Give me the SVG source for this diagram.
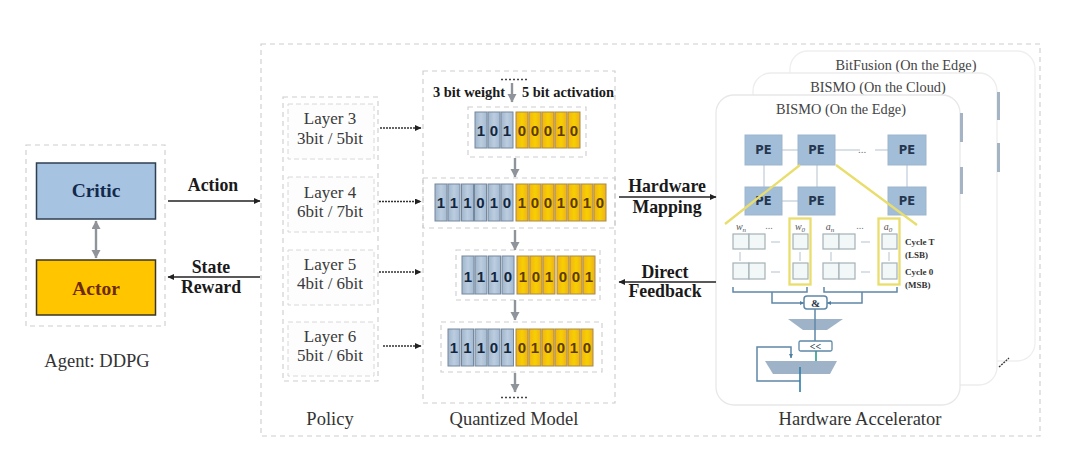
<svg xmlns="http://www.w3.org/2000/svg" width="1080" height="459" viewBox="0 0 1080 459">
<style>
text{font-family:"Liberation Serif","Times New Roman",serif;fill:#333;text-anchor:middle}
.big{font-size:18.5px}
.lay{font-size:17px;fill:#3a3a3a}
.bold{font-size:17.8px;font-weight:bold;fill:#1a1a1a}
.hd{font-size:14.4px;font-weight:bold;fill:#1a1a1a}
.card{font-size:14.3px;fill:#444}
.dash{fill:none;stroke:#cdcdcd;stroke-width:1.1;stroke-dasharray:5 4}
.lbox{fill:#fdfdfd;stroke:#d8d8d8;stroke-width:1;stroke-dasharray:5 3}
.b{fill:url(#gb);stroke:#76889c;stroke-width:1}
.y{fill:url(#gy);stroke:#a8894a;stroke-width:1}
.bt,.yt{font-family:"Liberation Sans",Arial,sans-serif;font-size:15px;font-weight:bold}
.bt{fill:#12263f}.yt{fill:#5c3a00}
.cardbg{fill:#fff;stroke:#e8e8e8;stroke-width:1.3}
.pe{fill:#a2bdd8;stroke:#9db5cc}
.pet{font-family:"DejaVu Sans",sans-serif;font-size:11.5px;font-weight:bold;fill:#25364f}
.wire{fill:none;stroke:#b3c1ce;stroke-width:1}
.cell{fill:#f2f7f8;stroke:#a4b1b6;stroke-width:1.2}
.yl{fill:none;stroke:#e9dd6c;stroke-width:2.3}
.blu{fill:none;stroke:#5f88a8;stroke-width:1.5}
.sm{font-size:9px;font-weight:bold;fill:#333}
.it{font-size:10px;font-style:italic;fill:#555}
.black{fill:none;stroke:#222;stroke-width:1.6}
.dot{fill:none;stroke:#333;stroke-width:1.3;stroke-dasharray:2 1}
.gray{fill:none;stroke:#8f949b;stroke-width:2.4}
</style>
<defs>
<linearGradient id="gb" x1="0" x2="1" y1="0" y2="0"><stop offset="0" stop-color="#9fb6cd"/><stop offset="0.5" stop-color="#bccddf"/><stop offset="1" stop-color="#a3bad2"/></linearGradient>
<linearGradient id="gy" x1="0" x2="1" y1="0" y2="0"><stop offset="0" stop-color="#f2b318"/><stop offset="0.5" stop-color="#f7d000"/><stop offset="1" stop-color="#efb020"/></linearGradient>
<marker id="ab" markerWidth="7" markerHeight="7" refX="6" refY="3" orient="auto-start-reverse" markerUnits="userSpaceOnUse"><path d="M0 0L6.500 3L0 6z" fill="#222"/></marker>
<marker id="ag" markerWidth="10" markerHeight="10" refX="8" refY="4.500" orient="auto-start-reverse" markerUnits="userSpaceOnUse"><path d="M0 0L8.500 4.500L0 9z" fill="#8f949b"/></marker>
<marker id="as" markerWidth="5" markerHeight="5" refX="4" refY="2" orient="auto" markerUnits="userSpaceOnUse"><path d="M0 0L4 2L0 4z" fill="#4d7fa3"/></marker>
</defs>
<rect width="1080" height="459" fill="#fff"/>

<g id="system"><rect class="dash" x="261" y="44" width="779" height="392"/></g>

<g id="agent">
<rect class="dash" x="26" y="145" width="139" height="181"/>
<text class="big" x="97" y="367">Agent: DDPG</text>
</g>
<g id="critic"><rect x="36.500" y="163" width="119" height="56" fill="#a6c3e2" stroke="#2f3f52" stroke-width="1.500"/><text x="96" y="197" font-size="19.500" font-weight="bold" style="fill:#13294b">Critic</text></g>
<g id="actor"><rect x="36.500" y="260" width="119" height="55" fill="#ffc600" stroke="#3a3520" stroke-width="1.500"/><text x="96" y="295" font-size="19.500" font-weight="bold" style="fill:#6e2a00">Actor</text></g>

<g id="policy">
<rect class="dash" x="283" y="97" width="95" height="284"/>
<text class="big" x="330" y="425">Policy</text>
</g>
<g id="layer3"><rect class="lbox" x="288" y="104" width="86" height="55"/><text class="lay" x="330" y="124">Layer 3</text><text class="lay" x="330" y="144">3bit / 5bit</text></g>
<g id="layer4"><rect class="lbox" x="288" y="177" width="86" height="55"/><text class="lay" x="330" y="198">Layer 4</text><text class="lay" x="330" y="217">6bit / 7bit</text></g>
<g id="layer5"><rect class="lbox" x="288" y="250" width="86" height="55"/><text class="lay" x="330" y="270">Layer 5</text><text class="lay" x="330" y="289">4bit / 6bit</text></g>
<g id="layer6"><rect class="lbox" x="288" y="322" width="86" height="54"/><text class="lay" x="330" y="342">Layer 6</text><text class="lay" x="330" y="361">5bit / 6bit</text></g>

<g id="quantized">
<rect class="dash" x="423" y="71" width="192" height="332"/>
<text class="hd" x="469" y="97">3 bit weight</text>
<text class="hd" x="568" y="97">5 bit activation</text>
<text class="big" x="514" y="425">Quantized Model</text>
</g>
<g id="row1">
<rect class="dash" x="468" y="107" width="118" height="50"/>
<rect class="b" x="475" y="112" width="12" height="36"/><rect class="b" x="488" y="112" width="12" height="36"/><rect class="b" x="501" y="112" width="12" height="36"/>
<rect class="y" x="516" y="112" width="12" height="36"/><rect class="y" x="529" y="112" width="12" height="36"/><rect class="y" x="542" y="112" width="12" height="36"/><rect class="y" x="555" y="112" width="12" height="36"/><rect class="y" x="568" y="112" width="12" height="36"/>
<text class="bt" x="481" y="136">1</text><text class="bt" x="494" y="136">0</text><text class="bt" x="507" y="136">1</text>
<text class="yt" x="522" y="136">0</text><text class="yt" x="535" y="136">0</text><text class="yt" x="548" y="136">0</text><text class="yt" x="561" y="136">1</text><text class="yt" x="574" y="136">0</text>
</g>
<g id="row2">
<rect class="dash" x="423" y="178" width="192" height="50"/>
<rect class="b" x="435" y="184" width="12" height="37"/><rect class="b" x="448" y="184" width="12" height="37"/><rect class="b" x="461.500" y="184" width="12" height="37"/><rect class="b" x="474.500" y="184" width="12" height="37"/><rect class="b" x="488" y="184" width="12" height="37"/><rect class="b" x="501" y="184" width="12" height="37"/>
<rect class="y" x="516" y="184" width="12" height="37"/><rect class="y" x="529" y="184" width="12" height="37"/><rect class="y" x="542" y="184" width="12" height="37"/><rect class="y" x="555" y="184" width="12" height="37"/><rect class="y" x="568" y="184" width="12" height="37"/><rect class="y" x="581" y="184" width="12" height="37"/><rect class="y" x="594" y="184" width="12" height="37"/>
<text class="bt" x="441" y="208">1</text><text class="bt" x="454" y="208">1</text><text class="bt" x="467.500" y="208">1</text><text class="bt" x="480.500" y="208">0</text><text class="bt" x="494" y="208">1</text><text class="bt" x="507" y="208">0</text>
<text class="yt" x="522" y="208">1</text><text class="yt" x="535" y="208">0</text><text class="yt" x="548" y="208">0</text><text class="yt" x="561" y="208">1</text><text class="yt" x="574" y="208">0</text><text class="yt" x="587" y="208">1</text><text class="yt" x="600" y="208">0</text>
</g>
<g id="row3">
<rect class="dash" x="456" y="250" width="144" height="50"/>
<rect class="b" x="462" y="256" width="12" height="38"/><rect class="b" x="475" y="256" width="12" height="38"/><rect class="b" x="488.500" y="256" width="12" height="38"/><rect class="b" x="502" y="256" width="12" height="38"/>
<rect class="y" x="517" y="256" width="12" height="38"/><rect class="y" x="530" y="256" width="12" height="38"/><rect class="y" x="543" y="256" width="12" height="38"/><rect class="y" x="557" y="256" width="12" height="38"/><rect class="y" x="570" y="256" width="12" height="38"/><rect class="y" x="583" y="256" width="12" height="38"/>
<text class="bt" x="468" y="282">1</text><text class="bt" x="481" y="282">1</text><text class="bt" x="494.500" y="282">1</text><text class="bt" x="508" y="282">0</text>
<text class="yt" x="523" y="282">1</text><text class="yt" x="536" y="282">0</text><text class="yt" x="549" y="282">1</text><text class="yt" x="563" y="282">0</text><text class="yt" x="576" y="282">0</text><text class="yt" x="589" y="282">1</text>
</g>
<g id="row4">
<rect class="dash" x="441" y="322" width="161" height="50"/>
<rect class="b" x="448" y="329" width="12" height="37"/><rect class="b" x="461.500" y="329" width="12" height="37"/><rect class="b" x="475" y="329" width="12" height="37"/><rect class="b" x="488" y="329" width="12" height="37"/><rect class="b" x="501.500" y="329" width="12" height="37"/>
<rect class="y" x="516" y="329" width="12" height="37"/><rect class="y" x="529" y="329" width="12" height="37"/><rect class="y" x="542" y="329" width="12" height="37"/><rect class="y" x="555" y="329" width="12" height="37"/><rect class="y" x="568" y="329" width="12" height="37"/><rect class="y" x="581" y="329" width="12" height="37"/>
<text class="bt" x="454" y="353">1</text><text class="bt" x="467.500" y="353">1</text><text class="bt" x="481" y="353">1</text><text class="bt" x="494" y="353">0</text><text class="bt" x="507.500" y="353">1</text>
<text class="yt" x="522" y="353">0</text><text class="yt" x="535" y="353">1</text><text class="yt" x="548" y="353">0</text><text class="yt" x="561" y="353">0</text><text class="yt" x="574" y="353">1</text><text class="yt" x="587" y="353">0</text>
</g>

<g id="card-bitfusion"><rect x="790" y="51" width="245" height="310" rx="18" fill="#fff" stroke="#efefef" stroke-width="1.300"/><text class="card" x="906" y="70">BitFusion (On the Edge)</text></g>
<g id="card-cloud">
<rect x="753" y="73" width="244" height="312" rx="18" fill="#fff" stroke="#ededed" stroke-width="1.300"/>
<text class="card" x="878" y="92">BISMO (On the Cloud)</text>
<rect x="997" y="92" width="3" height="28" fill="#a5b4c4"/><rect x="997" y="143" width="3" height="29" fill="#a5b4c4"/>
</g>
<g id="card-edge">
<rect class="cardbg" x="716" y="95" width="244" height="310" rx="18"/>
<rect x="960" y="113" width="3" height="29" fill="#a5b4c4"/><rect x="960" y="167" width="3" height="27" fill="#a5b4c4"/>
<text class="card" x="841" y="114">BISMO (On the Edge)</text>
<path class="wire" d="M782 150H798M835 150H860M875 150H888M907 165V187M764 165V187M817 165V187M782 201H798"/>
<text x="862" y="153" font-size="11" style="fill:#777">...</text>
<rect class="pe" x="745" y="135" width="37" height="30"/><rect class="pe" x="798" y="135" width="37" height="30"/><rect class="pe" x="888" y="135" width="38" height="30"/>
<rect class="pe" x="745" y="187" width="37" height="28"/><rect class="pe" x="798" y="187" width="37" height="28"/><rect class="pe" x="888" y="187" width="38" height="28"/>
<text class="pet" x="763.500" y="154">PE</text><text class="pet" x="816.500" y="154">PE</text><text class="pet" x="907" y="154">PE</text>
<text class="pet" x="763.500" y="205">PE</text><text class="pet" x="816.500" y="205">PE</text><text class="pet" x="907" y="205">PE</text>
<path class="yl" d="M800 165L725 224M836 165L917 225"/>
<text class="it" x="741" y="230">w<tspan font-size="7" dy="2">n</tspan></text><text class="it" x="800" y="230">w<tspan font-size="7" dy="2">0</tspan></text><text class="it" x="830" y="230">a<tspan font-size="7" dy="2">n</tspan></text><text class="it" x="888" y="230">a<tspan font-size="7" dy="2">0</tspan></text>
<text x="769" y="229" font-size="10" style="fill:#777">...</text><text x="860" y="229" font-size="10" style="fill:#777">...</text>
<rect class="cell" x="733" y="234" width="16" height="15"/><rect class="cell" x="749" y="234" width="16" height="15"/><rect class="cell" x="793" y="234" width="15" height="15"/><rect class="cell" x="823" y="234" width="16" height="15"/><rect class="cell" x="839" y="234" width="16" height="15"/><rect class="cell" x="882" y="234" width="15" height="15"/>
<rect class="cell" x="733" y="263" width="16" height="16"/><rect class="cell" x="749" y="263" width="16" height="16"/><rect class="cell" x="793" y="263" width="15" height="16"/><rect class="cell" x="823" y="263" width="16" height="16"/><rect class="cell" x="839" y="263" width="16" height="16"/><rect class="cell" x="882" y="263" width="15" height="16"/>
<path class="wire" d="M740 252V261M800 252V261M831 252V261M889 252V261M771 242H780M861 242H870M771 272H780M861 272H870"/>
<rect class="yl" x="789.500" y="218.500" width="21" height="66"/><rect class="yl" x="878.500" y="218.500" width="21" height="66"/>
<text class="sm" x="905" y="245" style="text-anchor:start">Cycle T</text><text class="sm" x="905" y="258" style="text-anchor:start">(LSB)</text>
<text class="sm" x="905" y="275" style="text-anchor:start">Cycle 0</text><text class="sm" x="905" y="288" style="text-anchor:start">(MSB)</text>
<path class="blu" d="M733 287V292H807V287M824 287V292H897V287"/>
<path class="blu" marker-end="url(#as)" d="M772 292V303H804"/><path class="blu" marker-end="url(#as)" d="M862 292V303H827"/>
<rect x="804" y="296" width="23" height="13" rx="3" fill="#fff" stroke="#5f88a8" stroke-width="1.500"/>
<text x="815.500" y="307" font-size="11" font-weight="bold" style="fill:#26384c">&amp;</text>
<path d="M788 319H843L827 330H803z" fill="#9fb3c8"/>
<path class="blu" d="M815 309V330M815 330V341"/>
<rect x="799" y="341" width="33" height="10" rx="1.500" fill="#fff" stroke="#5f88a8" stroke-width="1.300"/>
<text x="815.500" y="350" font-size="10" font-weight="bold" style="fill:#26384c">&lt;&lt;</text>
<path d="M816 351V361" fill="none" stroke="#2b9a8e" stroke-width="1.600"/>
<path d="M765 361H837L830 374H773z" fill="#9fb3c8"/>
<path class="blu" marker-end="url(#as)" d="M800 381H757V347H791V358"/>
<path d="M800 367V392" fill="none" stroke="#2d7ea6" stroke-width="1.600"/>
</g>
<text class="big" x="860" y="425" id="hw-label">Hardware Accelerator</text>
<g id="more-dots"><path class="dot" d="M999 367L1009 358" stroke-dasharray="1.500 2.500"/></g>

<g id="connectors">
<path class="gray" marker-start="url(#ag)" marker-end="url(#ag)" d="M96 221V258"/>
<path class="black" marker-end="url(#ab)" d="M168 201H260"/>
<path class="black" marker-end="url(#ab)" d="M260 277H168"/>
<path class="black" marker-end="url(#ab)" d="M619 197H716"/>
<path class="black" marker-end="url(#ab)" d="M716 282H619"/>
<path class="dot" marker-end="url(#ab)" d="M380 128H421"/>
<path class="dot" marker-end="url(#ab)" d="M379 201.500H421"/>
<path class="dot" marker-end="url(#ab)" d="M379 272H421"/>
<path class="dot" marker-end="url(#ab)" d="M383 346H421"/>
<path class="gray" marker-end="url(#ag)" d="M512 83V102"/>
<path class="gray" marker-end="url(#ag)" d="M515 158V177"/>
<path class="gray" marker-end="url(#ag)" d="M515 230V250"/>
<path class="gray" marker-end="url(#ag)" d="M515 300V320"/>
<path class="gray" marker-end="url(#ag)" d="M515 373V392"/>
<path d="M501 79.500H527M501 397.500H527" fill="none" stroke="#444" stroke-width="1.600" stroke-dasharray="2 2"/>
<text class="bold" x="213" y="191">Action</text>
<text class="bold" x="211" y="273">State</text>
<text class="bold" x="211" y="293">Reward</text>
<text class="bold" x="667" y="192">Hardware</text>
<text class="bold" x="667" y="213">Mapping</text>
<text class="bold" x="665" y="278">Direct</text>
<text class="bold" x="665" y="297">Feedback</text>
</g>
</svg>
